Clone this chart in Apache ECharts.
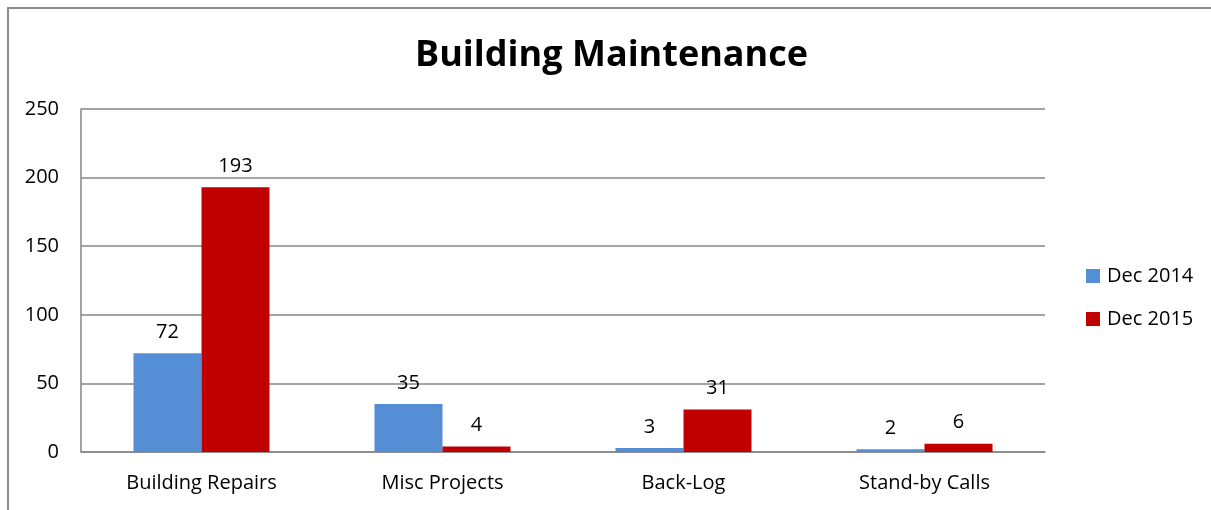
<!DOCTYPE html>
<html>
<head>
<meta charset="utf-8">
<script src="https://cdn.jsdelivr.net/npm/echarts@6/dist/echarts.min.js"></script>
<style>
  html, body { margin: 0; padding: 0; background: #fff; }
  .frame {
    position: absolute; left: 7px; top: 7px; width: 1220px; height: 520px;
    border-left: 2px solid #8c8c8c; border-top: 2px solid #8c8c8c;
  }
  #chart { position: absolute; left: 0; top: 0; width: 1211px; height: 510px; }
</style>
</head>
<body>
<div class="frame"></div>
<div id="chart"></div>
<script>
const categories = ['Building Repairs', 'Misc Projects', 'Back-Log', 'Stand-by Calls']
const dec2014 = [72, 35, 3, 2]
const dec2015 = [193, 4, 31, 6]
const seriesNames = ['Dec 2014', 'Dec 2015']

const font = '"Open Sans", "Noto Sans", sans-serif'
const chart = echarts.init(document.getElementById('chart'))

const barLabel = {
  show: true,
  position: 'top',
  distance: 11,
  color: '#000',
  fontSize: 20,
  fontFamily: font
}

chart.setOption({
  animation: false,
  title: {
    text: 'Building Maintenance',
    left: 410,
    top: 33,
    textStyle: { fontSize: 36, fontWeight: 'bold', color: '#000', fontFamily: font }
  },
  legend: {
    orient: 'vertical',
    left: 1081,
    top: 261,
    itemWidth: 14,
    itemHeight: 14,
    itemGap: 23,
    icon: 'rect',
    textStyle: { fontSize: 20, color: '#000', fontFamily: font, padding: [0, 0, 0, 2] },
    data: seriesNames
  },
  grid: { left: 81, right: 166, top: 109, bottom: 58 },
  xAxis: {
    type: 'category',
    data: categories,
    axisLine: { lineStyle: { color: '#868686', width: 1.5 } },
    axisTick: { show: false },
    axisLabel: { color: '#000', fontSize: 20, fontFamily: font, margin: 21 }
  },
  yAxis: {
    type: 'value',
    min: 0,
    max: 250,
    interval: 50,
    axisLine: { show: true, lineStyle: { color: '#868686', width: 1.5 } },
    axisTick: { show: false },
    splitLine: { lineStyle: { color: '#868686', width: 1.5 } },
    axisLabel: { color: '#000', fontSize: 20, fontFamily: font, margin: 22 }
  },
  series: [
    {
      name: seriesNames[0],
      type: 'bar',
      data: dec2014,
      barWidth: 68,
      barGap: '0%',
      itemStyle: { color: '#558ED5' },
      label: barLabel
    },
    {
      name: seriesNames[1],
      type: 'bar',
      data: dec2015,
      barWidth: 68,
      itemStyle: { color: '#C00000' },
      label: barLabel
    }
  ]
})
</script>
</body>
</html>
